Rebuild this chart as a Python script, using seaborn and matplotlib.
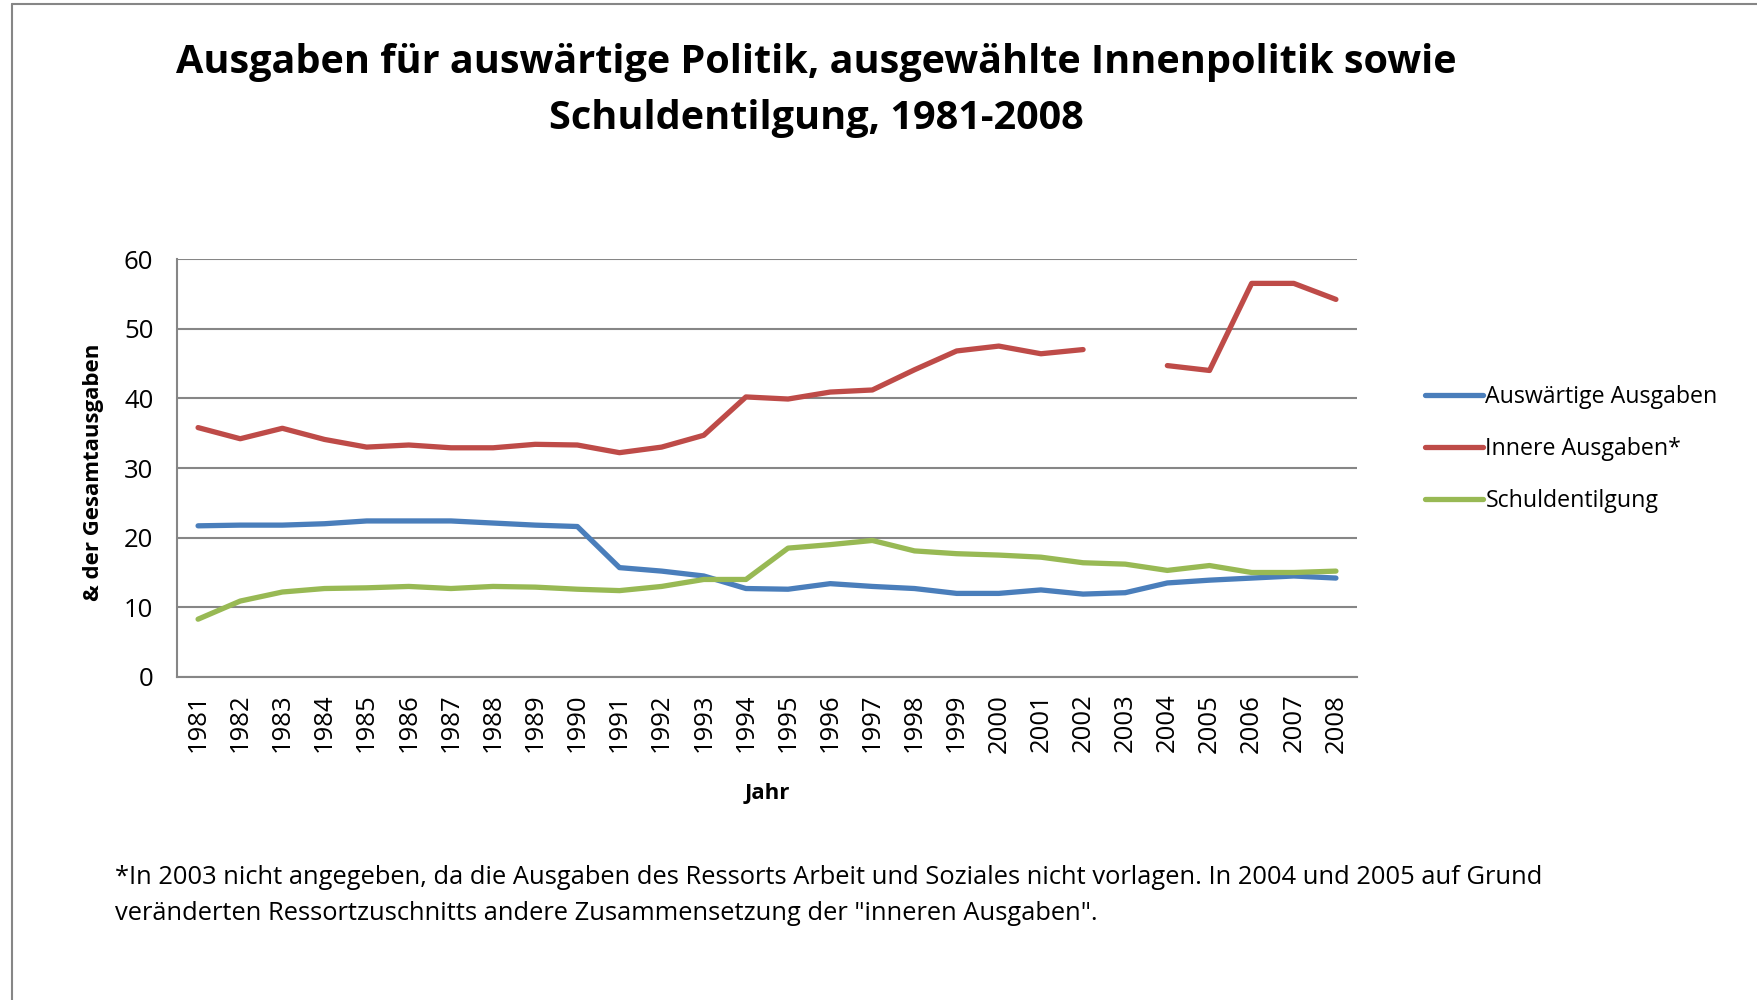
import numpy as np
import pandas as pd
import seaborn as sns
import matplotlib.pyplot as plt
from matplotlib.lines import Line2D


# data (% of total spending)
years = list(range(1981, 2009))
auswaertig = [21.7, 21.8, 21.8, 22.0, 22.4, 22.4, 22.4, 22.1, 21.8, 21.6,
              15.7, 15.2, 14.5, 12.7, 12.6, 13.4, 13.0, 12.7, 12.0, 12.0,
              12.5, 11.9, 12.1, 13.5, 13.9, 14.2, 14.5, 14.2]
innere = [35.8, 34.2, 35.7, 34.1, 33.0, 33.3, 32.9, 32.9, 33.4, 33.3,
          32.2, 33.0, 34.7, 40.2, 39.9, 40.9, 41.2, 44.1, 46.8, 47.5,
          46.4, 47.0, np.nan, 44.7, 44.0, 56.5, 56.5, 54.2]
schulden = [8.3, 10.9, 12.2, 12.7, 12.8, 13.0, 12.7, 13.0, 12.9, 12.6,
            12.4, 13.0, 14.0, 14.0, 18.5, 19.0, 19.6, 18.1, 17.7, 17.5,
            17.2, 16.4, 16.2, 15.3, 16.0, 15.0, 15.0, 15.2]

names = ['Auswärtige Ausgaben', 'Innere Ausgaben*', 'Schuldentilgung']
colors = ['#4A7EBB', '#BE4B48', '#98B954']

df = pd.DataFrame({'Jahr': years, names[0]: auswaertig,
                   names[1]: innere, names[2]: schulden})
long = df.melt(id_vars='Jahr', var_name='Reihe', value_name='Wert')
# gap in 2003 -> split into segments so the line is not joined across it
long['seg'] = long.groupby('Reihe')['Wert'].transform(lambda s: s.isna().cumsum())
long = long.dropna()

sns.set_style('white')
plt.rcParams['font.family'] = ['Open Sans', 'DejaVu Sans']
plt.rcParams['text.color'] = 'black'
plt.rcParams['axes.labelcolor'] = 'black'
plt.rcParams['xtick.color'] = 'black'
plt.rcParams['ytick.color'] = 'black'

fig = plt.figure(figsize=(17.58, 10), dpi=100)
ax = fig.add_axes([177 / 1758, 1 - 677 / 1000, (1357 - 177) / 1758, (677 - 259) / 1000])

sns.lineplot(data=long, x='Jahr', y='Wert', hue='Reihe', units='seg',
             estimator=None, palette=dict(zip(names, colors)),
             hue_order=names, linewidth=3.8, legend=False, ax=ax,
             solid_capstyle='round', solid_joinstyle='round')

ax.set_xlim(1980.5, 2008.5)
ax.set_ylim(0, 60)
ax.set_yticks(range(0, 61, 10))
ax.set_xticks(years)
ax.set_xticklabels([str(y) for y in years], rotation=90, fontsize=18.5)
ax.tick_params(axis='y', labelsize=18.5, length=8, width=1.5, color='#868686', pad=9)
ax.tick_params(axis='x', length=0, pad=12)
ax.yaxis.grid(True, color='#868686', linewidth=1.5)
ax.set_axisbelow(True)
for side in ['top', 'right']:
    ax.spines[side].set_visible(False)
for side in ['left', 'bottom']:
    ax.spines[side].set_color('#868686')
    ax.spines[side].set_linewidth(1.5)

ax.set_xlabel('Jahr', fontsize=16, fontweight='bold')
ax.set_ylabel('& der Gesamtausgaben', fontsize=16, fontweight='bold')
ax.xaxis.set_label_coords(0.5, -0.253)
ax.yaxis.set_label_coords(-0.062, 0.49)

handles = [Line2D([], [], color=c, linewidth=3.8, solid_capstyle='round') for c in colors]
ax.legend(handles, names, loc='center left', bbox_to_anchor=(1.04, 0.545),
          frameon=False, fontsize=16.7, handlelength=2.5, handletextpad=0.1,
          labelspacing=1.2)

fig.text(816 / 1758, 1 - 62 / 1000,
         'Ausgaben für auswärtige Politik, ausgewählte Innenpolitik sowie',
         ha='center', va='center', fontsize=28.5, fontweight='bold')
fig.text(816 / 1758, 1 - 118 / 1000, 'Schuldentilgung, 1981-2008',
         ha='center', va='center', fontsize=28.5, fontweight='bold')

fig.text(115 / 1758, 1 - 877 / 1000,
         '*In 2003 nicht angegeben, da die Ausgaben des Ressorts Arbeit und Soziales nicht vorlagen. '
         'In 2004 und 2005 auf Grund', ha='left', va='center', fontsize=18.4)
fig.text(115 / 1758, 1 - 914 / 1000,
         'veränderten Ressortzuschnitts andere Zusammensetzung der "inneren Ausgaben".',
         ha='left', va='center', fontsize=18.4)

# outer frame of the chart area
fig.add_artist(Line2D([12 / 1758, 12 / 1758], [0, 1 - 4 / 1000], transform=fig.transFigure,
                      color='#868686', linewidth=1.5))
fig.add_artist(Line2D([12 / 1758, 1], [1 - 4 / 1000, 1 - 4 / 1000], transform=fig.transFigure,
                      color='#868686', linewidth=1.5))

fig.savefig('out.png', dpi=100, facecolor='white')
